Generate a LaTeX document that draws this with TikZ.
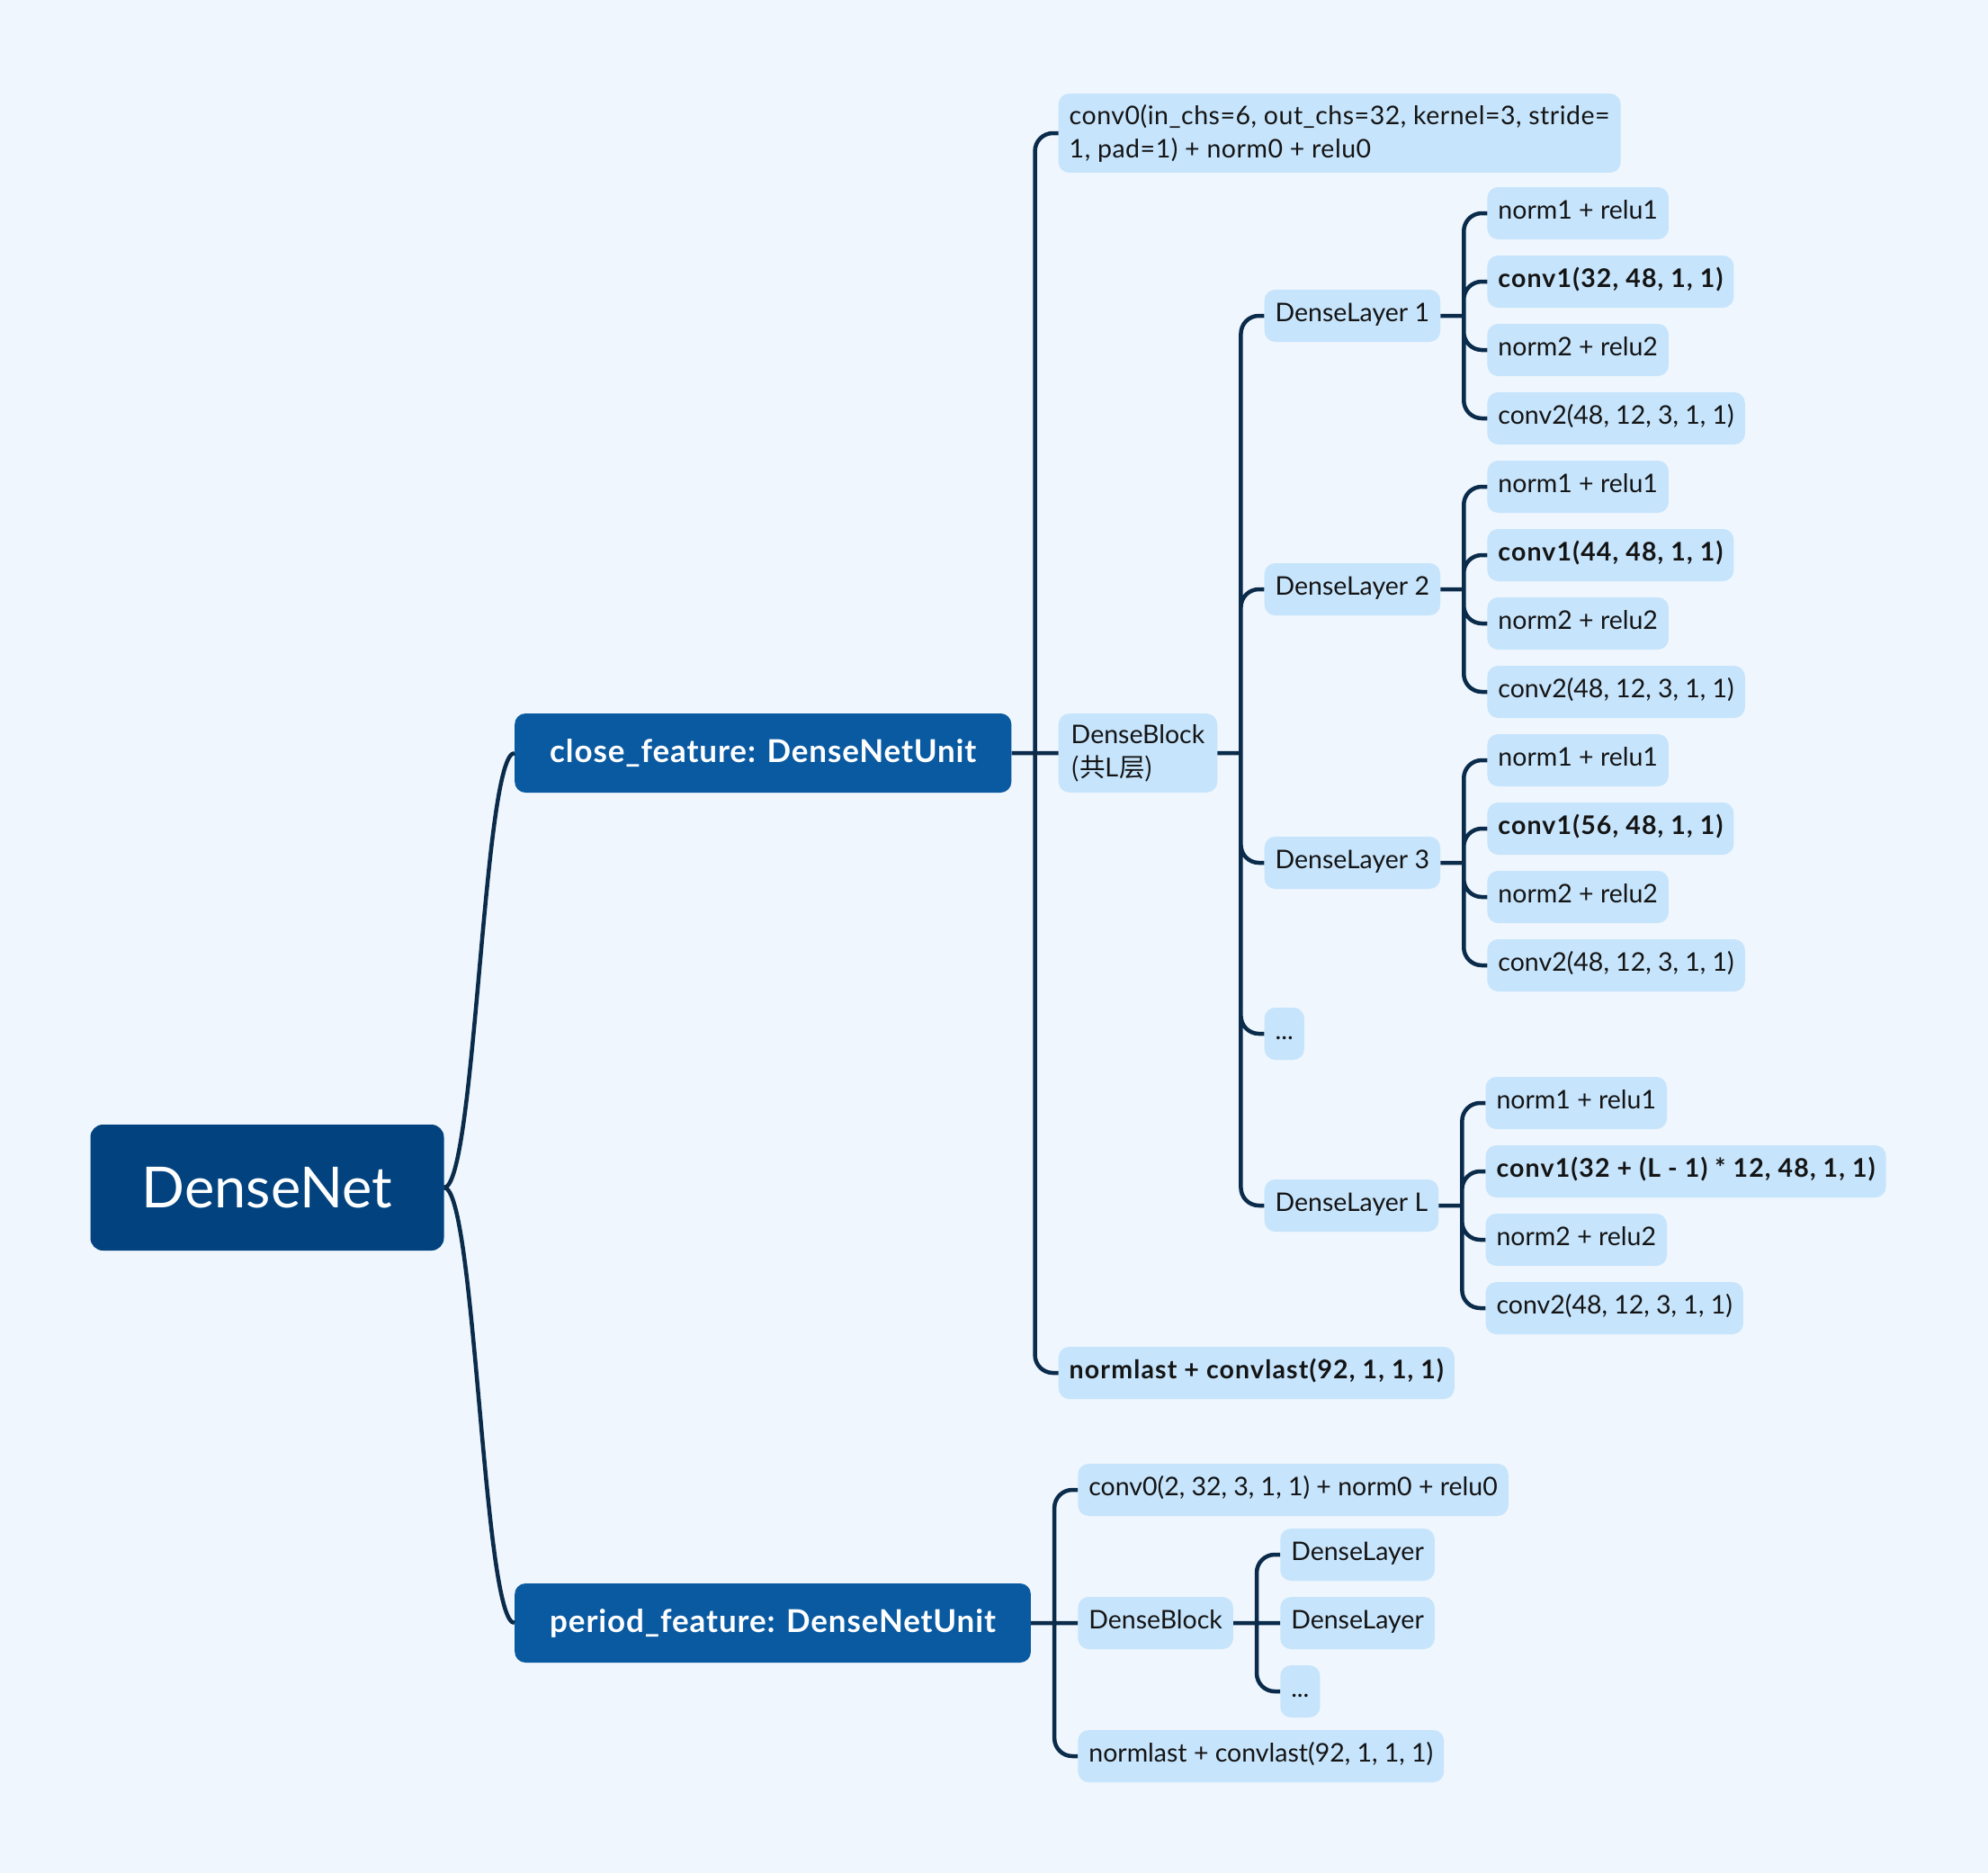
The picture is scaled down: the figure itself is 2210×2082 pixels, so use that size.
\documentclass[tikz,border=0pt]{standalone}
\usepackage{fontspec}
\setmainfont{Lato}
\newfontfamily\cjk{Noto Sans CJK SC}
\usetikzlibrary{calc}
\definecolor{bgblue}{HTML}{EFF6FD}
\definecolor{rootblue}{HTML}{02437F}
\definecolor{unitblue}{HTML}{0A5AA2}
\definecolor{leafblue}{HTML}{C6E4FC}
\definecolor{linenavy}{HTML}{0B2B4B}
\definecolor{leaftext}{HTML}{141414}
\newcommand\leaffont{\fontsize{28.5}{37}\selectfont}

\begin{document}
\begin{tikzpicture}[x=1pt, y=-1pt,
  leafbase/.style={fill=leafblue, text=leaftext, rounded corners=12pt, anchor=west,
    inner xsep=12pt, inner ysep=12pt, minimum height=58pt, font=\leaffont},
  leaf/.style={leafbase, text height=20pt, text depth=7pt},
  leafbold/.style={leaf, font=\leaffont\bfseries\addfontfeatures{LetterSpace=4}},
  leaftwo/.style={leafbase, align=left},
  unit/.style={fill=unitblue, text=white, rounded corners=12pt, anchor=west,
    inner xsep=39pt, minimum height=88pt,
    font=\fontsize{35}{40}\selectfont\bfseries\addfontfeatures{LetterSpace=2.5}},
  rootbox/.style={fill=rootblue, text=white, rounded corners=14pt,
    minimum width=393pt, minimum height=140pt, font=\fontsize{63}{70}\selectfont},
  branch/.style={draw=linenavy, line width=4.5pt, rounded corners=20pt}]
\path[use as bounding box, fill=bgblue] (0,0) rectangle (2210,2082);

% root and the two units
\node[rootbox] (dn) at (297,1320) {DenseNet};
\node[unit] (cf) at (572,837) {close\_feature: DenseNetUnit};
\node[unit] (pf) at (572,1804) {period\_feature: DenseNetUnit};

% close_feature
\node[leaftwo, font=\leaffont\addfontfeatures{LetterSpace=1.8}] (c0) at ($(cf.east)+(52,-689)$) {conv0(in\_chs=6, out\_chs=32, kernel=3, stride=\\1, pad=1) + norm0 + relu0};
\node[leaftwo, inner xsep=14pt] (db) at ($(cf.east)+(52,0)$) {DenseBlock\\{\cjk (共L层)}};
\node[leafbold] (nl) at ($(cf.east)+(52,689)$) {normlast + convlast(92, 1, 1, 1)};

\node[leaf] (dl1) at ($(db.east)+(52,-486)$) {DenseLayer 1};
\node[leaf] (dl2) at ($(db.east)+(52,-182)$) {DenseLayer 2};
\node[leaf] (dl3) at ($(db.east)+(52,122)$) {DenseLayer 3};
\node[leaf] (dlx) at ($(db.east)+(52,312)$) {...};
\node[leaf] (dll) at ($(db.east)+(52,503)$) {DenseLayer L};

\node[leaf] (dl1-n1) at ($(dl1.east)+(52,-114)$) {norm1 + relu1};
\node[leafbold] (dl1-c1) at ($(dl1.east)+(52,-38)$) {conv1(32, 48, 1, 1)};
\node[leaf] (dl1-n2) at ($(dl1.east)+(52,38)$) {norm2 + relu2};
\node[leaf] (dl1-c2) at ($(dl1.east)+(52,114)$) {conv2(48, 12, 3, 1, 1)};

\node[leaf] (dl2-n1) at ($(dl2.east)+(52,-114)$) {norm1 + relu1};
\node[leafbold] (dl2-c1) at ($(dl2.east)+(52,-38)$) {conv1(44, 48, 1, 1)};
\node[leaf] (dl2-n2) at ($(dl2.east)+(52,38)$) {norm2 + relu2};
\node[leaf] (dl2-c2) at ($(dl2.east)+(52,114)$) {conv2(48, 12, 3, 1, 1)};

\node[leaf] (dl3-n1) at ($(dl3.east)+(52,-114)$) {norm1 + relu1};
\node[leafbold] (dl3-c1) at ($(dl3.east)+(52,-38)$) {conv1(56, 48, 1, 1)};
\node[leaf] (dl3-n2) at ($(dl3.east)+(52,38)$) {norm2 + relu2};
\node[leaf] (dl3-c2) at ($(dl3.east)+(52,114)$) {conv2(48, 12, 3, 1, 1)};

\node[leaf] (dll-n1) at ($(dll.east)+(52,-114)$) {norm1 + relu1};
\node[leafbold] (dll-c1) at ($(dll.east)+(52,-38)$) {conv1(32 + (L - 1) * 12, 48, 1, 1)};
\node[leaf] (dll-n2) at ($(dll.east)+(52,38)$) {norm2 + relu2};
\node[leaf] (dll-c2) at ($(dll.east)+(52,114)$) {conv2(48, 12, 3, 1, 1)};

% period_feature
\node[leaf] (p0) at ($(pf.east)+(52,-148)$) {conv0(2, 32, 3, 1, 1) + norm0 + relu0};
\node[leaf] (pdb) at ($(pf.east)+(52,0)$) {DenseBlock};
\node[leaf] (pnl) at ($(pf.east)+(52,148)$) {normlast + convlast(92, 1, 1, 1)};
\node[leaf] (pl1) at ($(pdb.east)+(52,-76)$) {DenseLayer};
\node[leaf] (pl2) at ($(pdb.east)+(52,0)$) {DenseLayer};
\node[leaf] (plx) at ($(pdb.east)+(52,76)$) {...};

% connectors
\draw[branch] (dn.east) .. controls +(35,0) and +(-35,0) .. (cf.west);
\draw[branch] (dn.east) .. controls +(35,0) and +(-35,0) .. (pf.west);

\coordinate (jcf) at ($(cf.east)+(26,0)$);
\draw[branch] (cf.east) -- (db.west) (jcf) |- (c0.west) (jcf) |- (nl.west);
\coordinate (jdb) at ($(db.east)+(26,0)$);
\draw[branch] (db.east) -- (jdb) (jdb) |- (dl1.west) (jdb) |- (dl2.west)
  (jdb) |- (dl3.west) (jdb) |- (dlx.west) (jdb) |- (dll.west);
\foreach \p in {dl1,dl2,dl3,dll}
  \draw[branch] (\p.east) -- ++(26,0) coordinate (j) (j) |- (\p-n1.west) (j) |- (\p-c1.west)
    (j) |- (\p-n2.west) (j) |- (\p-c2.west);

\coordinate (jpf) at ($(pf.east)+(26,0)$);
\draw[branch] (pf.east) -- (pdb.west) (jpf) |- (p0.west) (jpf) |- (pnl.west);
\coordinate (jpdb) at ($(pdb.east)+(26,0)$);
\draw[branch] (pdb.east) -- (pl2.west) (jpdb) |- (pl1.west) (jpdb) |- (plx.west);
\end{tikzpicture}
\end{document}
